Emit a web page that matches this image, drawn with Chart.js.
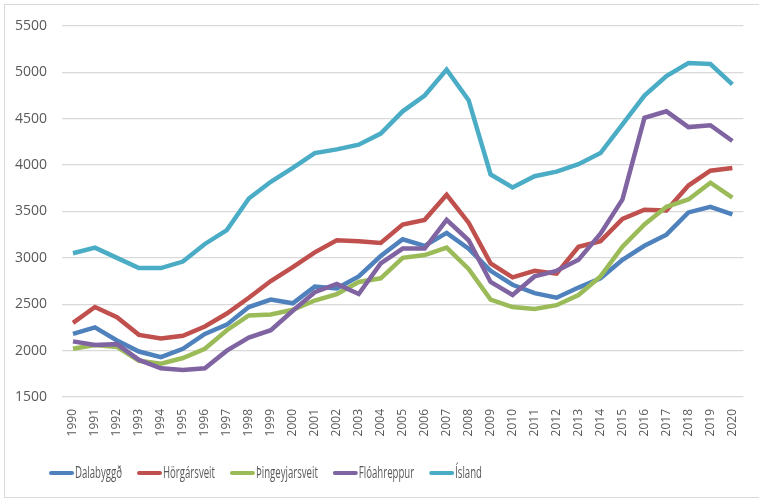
<!DOCTYPE html>
<html>
<head>
<meta charset="utf-8">
<script src="https://cdn.jsdelivr.net/npm/chart.js@4/dist/chart.umd.min.js"></script>
<style>
  html, body { margin: 0; padding: 0; background: #fff; }
  #wrap { width: 759px; height: 500px; position: relative; }
</style>
</head>
<body>
<div id="wrap"><canvas id="c" width="759" height="500"></canvas></div>
<script>
const years = ['1990','1991','1992','1993','1994','1995','1996','1997','1998','1999','2000','2001','2002','2003','2004','2005','2006','2007','2008','2009','2010','2011','2012','2013','2014','2015','2016','2017','2018','2019','2020'];

const dalabyggd = [2180,2250,2110,1990,1930,2020,2180,2280,2470,2550,2510,2690,2670,2800,3020,3200,3130,3270,3100,2860,2710,2620,2570,2680,2780,2980,3130,3250,3490,3550,3470];
const horgarsveit = [2300,2470,2360,2170,2130,2160,2260,2400,2570,2750,2900,3060,3190,3180,3160,3360,3410,3680,3380,2940,2790,2860,2830,3120,3180,3420,3520,3510,3780,3940,3970];
const thingeyjarsveit = [2020,2060,2040,1890,1860,1920,2020,2220,2380,2390,2440,2540,2610,2740,2780,3000,3030,3110,2880,2550,2470,2450,2490,2600,2800,3120,3360,3550,3630,3810,3650];
const floahreppur = [2100,2060,2070,1900,1810,1790,1810,2000,2140,2220,2430,2630,2720,2610,2940,3100,3100,3410,3190,2740,2600,2800,2860,2980,3260,3630,4510,4580,4410,4430,4260];
const island = [3050,3110,3000,2890,2890,2960,3150,3300,3640,3820,3970,4130,4170,4220,4340,4580,4750,5030,4700,3900,3760,3880,3930,4010,4130,4440,4750,4960,5100,5090,4870];

const yTicks = [1500,2000,2500,3000,3500,4000,4500,5000,5500];

const seriesNames = ['Dalabyggð','Hörgársveit','Þingeyjarsveit','Flóahreppur','Ísland'];
const seriesColors = ['#4F81BD','#C0504D','#9BBB59','#8064A2','#4BACC6'];
const seriesData = [dalabyggd, horgarsveit, thingeyjarsveit, floahreppur, island];

const datasets = seriesData.map((d, i) => ({
  label: seriesNames[i],
  data: d,
  borderColor: seriesColors[i],
  backgroundColor: seriesColors[i],
  borderWidth: 4.5,
  pointRadius: 0,
  pointHoverRadius: 0,
  tension: 0,
  fill: false,
  order: seriesData.length - 1 - i
}));

const frame = {
  id: 'frame',
  beforeDraw(chart) {
    const ctx = chart.ctx;
    ctx.save();
    ctx.strokeStyle = '#d9d9d9';
    ctx.lineWidth = 1;
    ctx.strokeRect(4.5, 4.5, 800, 493);
    ctx.restore();
  }
};

const customLegend = {
  id: 'customLegend',
  afterDraw(chart) {
    const ctx = chart.ctx;
    ctx.save();
    ctx.font = '16px "Open Sans", sans-serif';
    ctx.textBaseline = 'middle';
    ctx.textAlign = 'left';
    const sx = 47 / ctx.measureText(chart.data.datasets[0].label).width;
    let x = 49;
    const y = 473;
    chart.data.datasets.forEach(ds => {
      ctx.strokeStyle = ds.borderColor;
      ctx.lineWidth = 4;
      ctx.lineCap = 'round';
      ctx.beginPath();
      ctx.moveTo(x + 2, y);
      ctx.lineTo(x + 23, y);
      ctx.stroke();
      ctx.fillStyle = '#595959';
      const w = ctx.measureText(ds.label).width * sx;
      ctx.save();
      ctx.translate(x + 26, y);
      ctx.scale(sx, 1);
      ctx.fillText(ds.label, 0, 0);
      ctx.restore();
      x += 26 + w + 15;
    });
    ctx.restore();
  }
};

new Chart(document.getElementById('c'), {
  type: 'line',
  data: { labels: years, datasets },
  options: {
    responsive: false,
    animation: false,
    layout: { padding: { left: 0, right: 14, top: 26, bottom: 43 } },
    plugins: { legend: { display: false }, tooltip: { enabled: false } },
    scales: {
      x: {
        offset: true,
        grid: { display: false, drawTicks: false },
        border: { display: false },
        ticks: {
          autoSkip: false,
          maxRotation: 90,
          minRotation: 90,
          padding: 12,
          color: '#595959',
          font: { family: '"Open Sans", sans-serif', size: 12 }
        },
        afterFit(scale) { scale.height = 60; }
      },
      y: {
        min: 1500,
        max: 5500,
        afterBuildTicks(scale) { scale.ticks = yTicks.map(v => ({ value: v })); },
        grid: { color: '#d9d9d9', lineWidth: 1.3, drawTicks: false },
        border: { display: false },
        ticks: {
          padding: 15,
          color: '#595959',
          font: { family: '"Open Sans", sans-serif', size: 14 },
          callback: v => String(v)
        },
        afterFit(scale) { scale.width = 62; }
      }
    }
  },
  plugins: [frame, customLegend]
});
</script>
</body>
</html>
